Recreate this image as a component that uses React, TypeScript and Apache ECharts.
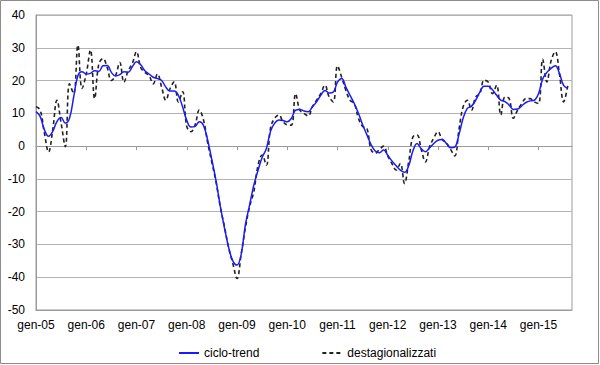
import React, { useEffect, useRef } from "react";
import * as echarts from "echarts";

const monthAbbr = ["gen", "feb", "mar", "apr", "mag", "giu", "lug", "ago", "set", "ott", "nov", "dic"];
const years = ["05", "06", "07", "08", "09", "10", "11", "12", "13", "14", "15"];
const lastMonthIndex2015 = 8; // axis runs to set-15

const yTicks = { min: -50, max: 40, interval: 10 };

const cicloTrend = [
  10.5, 9, 5, 3, 4.5, 7.5, 8.7, 7, 8.5, 15, 21.5, 22.7,
  22, 22.2, 23, 22.8, 24.5, 24.6, 22.5, 21.4, 21.8, 22.7, 22.5, 24.2,
  25.7, 24.8, 23, 22, 21, 20.6, 20, 18, 16.8, 16.8, 15.5, 12,
  7.9, 5.8, 6, 7.4, 6.3, 1.8, -4.2, -10.6, -18.2, -24.9, -30.9, -35,
  -36.3, -33, -24, -18, -12, -7.5, -3.5, -0.8, 4.5, 7, 8, 7.8,
  7.4, 8.5, 11, 11.2, 10.7, 10.5, 12, 13.5, 15.5, 17, 16.2, 16.5,
  19.5, 20.6, 18, 15.5, 13, 10, 6.5, 3.5, 0.5, -1.5, -2, -1.2,
  -2.8, -4.5, -6, -7.3, -8, -6, -1.5, 0.8, -0.8, -1.7, -0.5, 0.8,
  1.8, 2, 0.8, -0.5, -0.3, 3.5, 8.5, 11.5, 12.2, 14, 16.5, 18.3,
  18.3, 17.2, 15.5, 14, 13.6, 12.5, 11.2, 11.3, 12.3, 13.3, 13.8, 14,
  16, 20.5, 22.5, 23.7, 24.5, 22.2, 18.5, 17.6,
];

const destagionalizzati = [
  12, 11, 4, -1.8, 5, 14, 7, -0.2, 19, 16, 30.8, 17.6,
  22, 29.3, 14.5, 25, 26.7, 24, 20, 21.5, 25.5, 19.5, 23, 25.2,
  28.8, 24, 22.5, 21.5, 19, 22, 18, 14, 17.5, 19.6, 13.5, 16.6,
  6, 4.4, 6.5, 11, 8, 1, -5, -11, -18.5, -24.5, -31, -35.8,
  -40.4, -33, -25, -18.5, -14, -6, -2.7, -5.8, 5.5, 8.5, 9.5, 7.4,
  6.5, 6.4, 16, 11, 10, 9.2, 12, 14, 16, 18.6, 15, 13.5,
  24.5, 21, 17, 14, 13, 8.5, 6, 5.5, -1, -2.2, -1, 0,
  -3, -5.3, -7.3, -5.3, -11.4, -4.8, 2.8, 3.4, -1, -4.8, -0.2, 2.5,
  4.4, 2, 1, -1, -3, 5, 12, 14, 11, 15, 16, 20.1,
  19.5, 16, 18.6, 9.5, 15, 14.5, 8.5, 11, 13, 14.5, 14.5, 13.5,
  13, 26.5, 19.6, 26, 28.8, 22, 13.5, 18.5,
];

const categories: string[] = [];
years.forEach((y, yi) => {
  monthAbbr.forEach((m, mi) => {
    if (yi === years.length - 1 && mi > lastMonthIndex2015) return;
    categories.push(`${m}-${y}`);
  });
});

const FONT = "Liberation Sans";
const GRID_COLOR = "#b3b3b3";
const AXIS_COLOR = "#9a9a9a";

export default function App() {
  const ref = useRef<HTMLDivElement>(null);

  useEffect(() => {
    document.body.style.margin = "0";
    const chart = echarts.init(ref.current!, null, { renderer: "svg" });
    chart.setOption({
      animation: false,
      backgroundColor: "#ffffff",
      textStyle: { fontFamily: FONT },
      graphic: [
        {
          type: "rect",
          shape: { x: 0.5, y: 0.5, width: 598, height: 363 },
          style: { fill: "none", stroke: "#8c8c8c", lineWidth: 1 },
          silent: true,
        },
      ],
      grid: {
        left: 36,
        right: 28,
        top: 15,
        bottom: 55,
        show: true,
        borderColor: AXIS_COLOR,
        borderWidth: 1,
      },
      legend: {
        left: 178,
        top: 347,
        padding: 0,
        itemGap: 62,
        itemWidth: 20,
        itemHeight: 10,
        itemStyle: { opacity: 0 },
        textStyle: { fontFamily: FONT, fontSize: 12, color: "#000" },
        data: ["ciclo-trend", "destagionalizzati"],
      },
      xAxis: [
        {
          type: "category",
          data: categories,
          boundaryGap: false,
          position: "bottom",
          axisLine: { show: true, onZero: false, lineStyle: { color: AXIS_COLOR } },
          axisTick: { show: false },
          axisLabel: {
            interval: 11,
            margin: 9,
            fontFamily: FONT,
            fontSize: 12,
            color: "#000",
          },
          splitLine: { show: false },
        },
        {
          type: "category",
          data: categories,
          boundaryGap: false,
          position: "bottom",
          axisLine: { show: true, onZero: true, lineStyle: { color: AXIS_COLOR } },
          axisTick: { show: true, interval: 11, length: 4, inside: false, lineStyle: { color: AXIS_COLOR } },
          axisLabel: { show: false },
          splitLine: { show: false },
        },
      ],
      yAxis: {
        type: "value",
        min: yTicks.min,
        max: yTicks.max,
        interval: yTicks.interval,
        axisLine: { show: true, lineStyle: { color: AXIS_COLOR } },
        axisTick: { show: false },
        axisLabel: { margin: 11, fontFamily: FONT, fontSize: 12, color: "#000" },
        splitLine: { show: true, lineStyle: { color: GRID_COLOR, width: 1 } },
      },
      series: [
        {
          name: "ciclo-trend",
          type: "line",
          xAxisIndex: 0,
          data: cicloTrend,
          smooth: 0.4,
          symbol: "none",
          z: 3,
          lineStyle: { color: "#1a1aff", width: 1.5 },
          itemStyle: { color: "#1a1aff" },
        },
        {
          name: "destagionalizzati",
          type: "line",
          xAxisIndex: 0,
          data: destagionalizzati,
          smooth: 0.4,
          symbol: "none",
          z: 2,
          lineStyle: { color: "#222222", width: 1.6, type: [4, 3] },
          itemStyle: { color: "#222222" },
        },
      ],
    });
    return () => chart.dispose();
  }, []);

  return (
    <div
      ref={ref}
      style={{ position: "absolute", left: 0, top: 0, width: 600, height: 365 }}
    />
  );
}
